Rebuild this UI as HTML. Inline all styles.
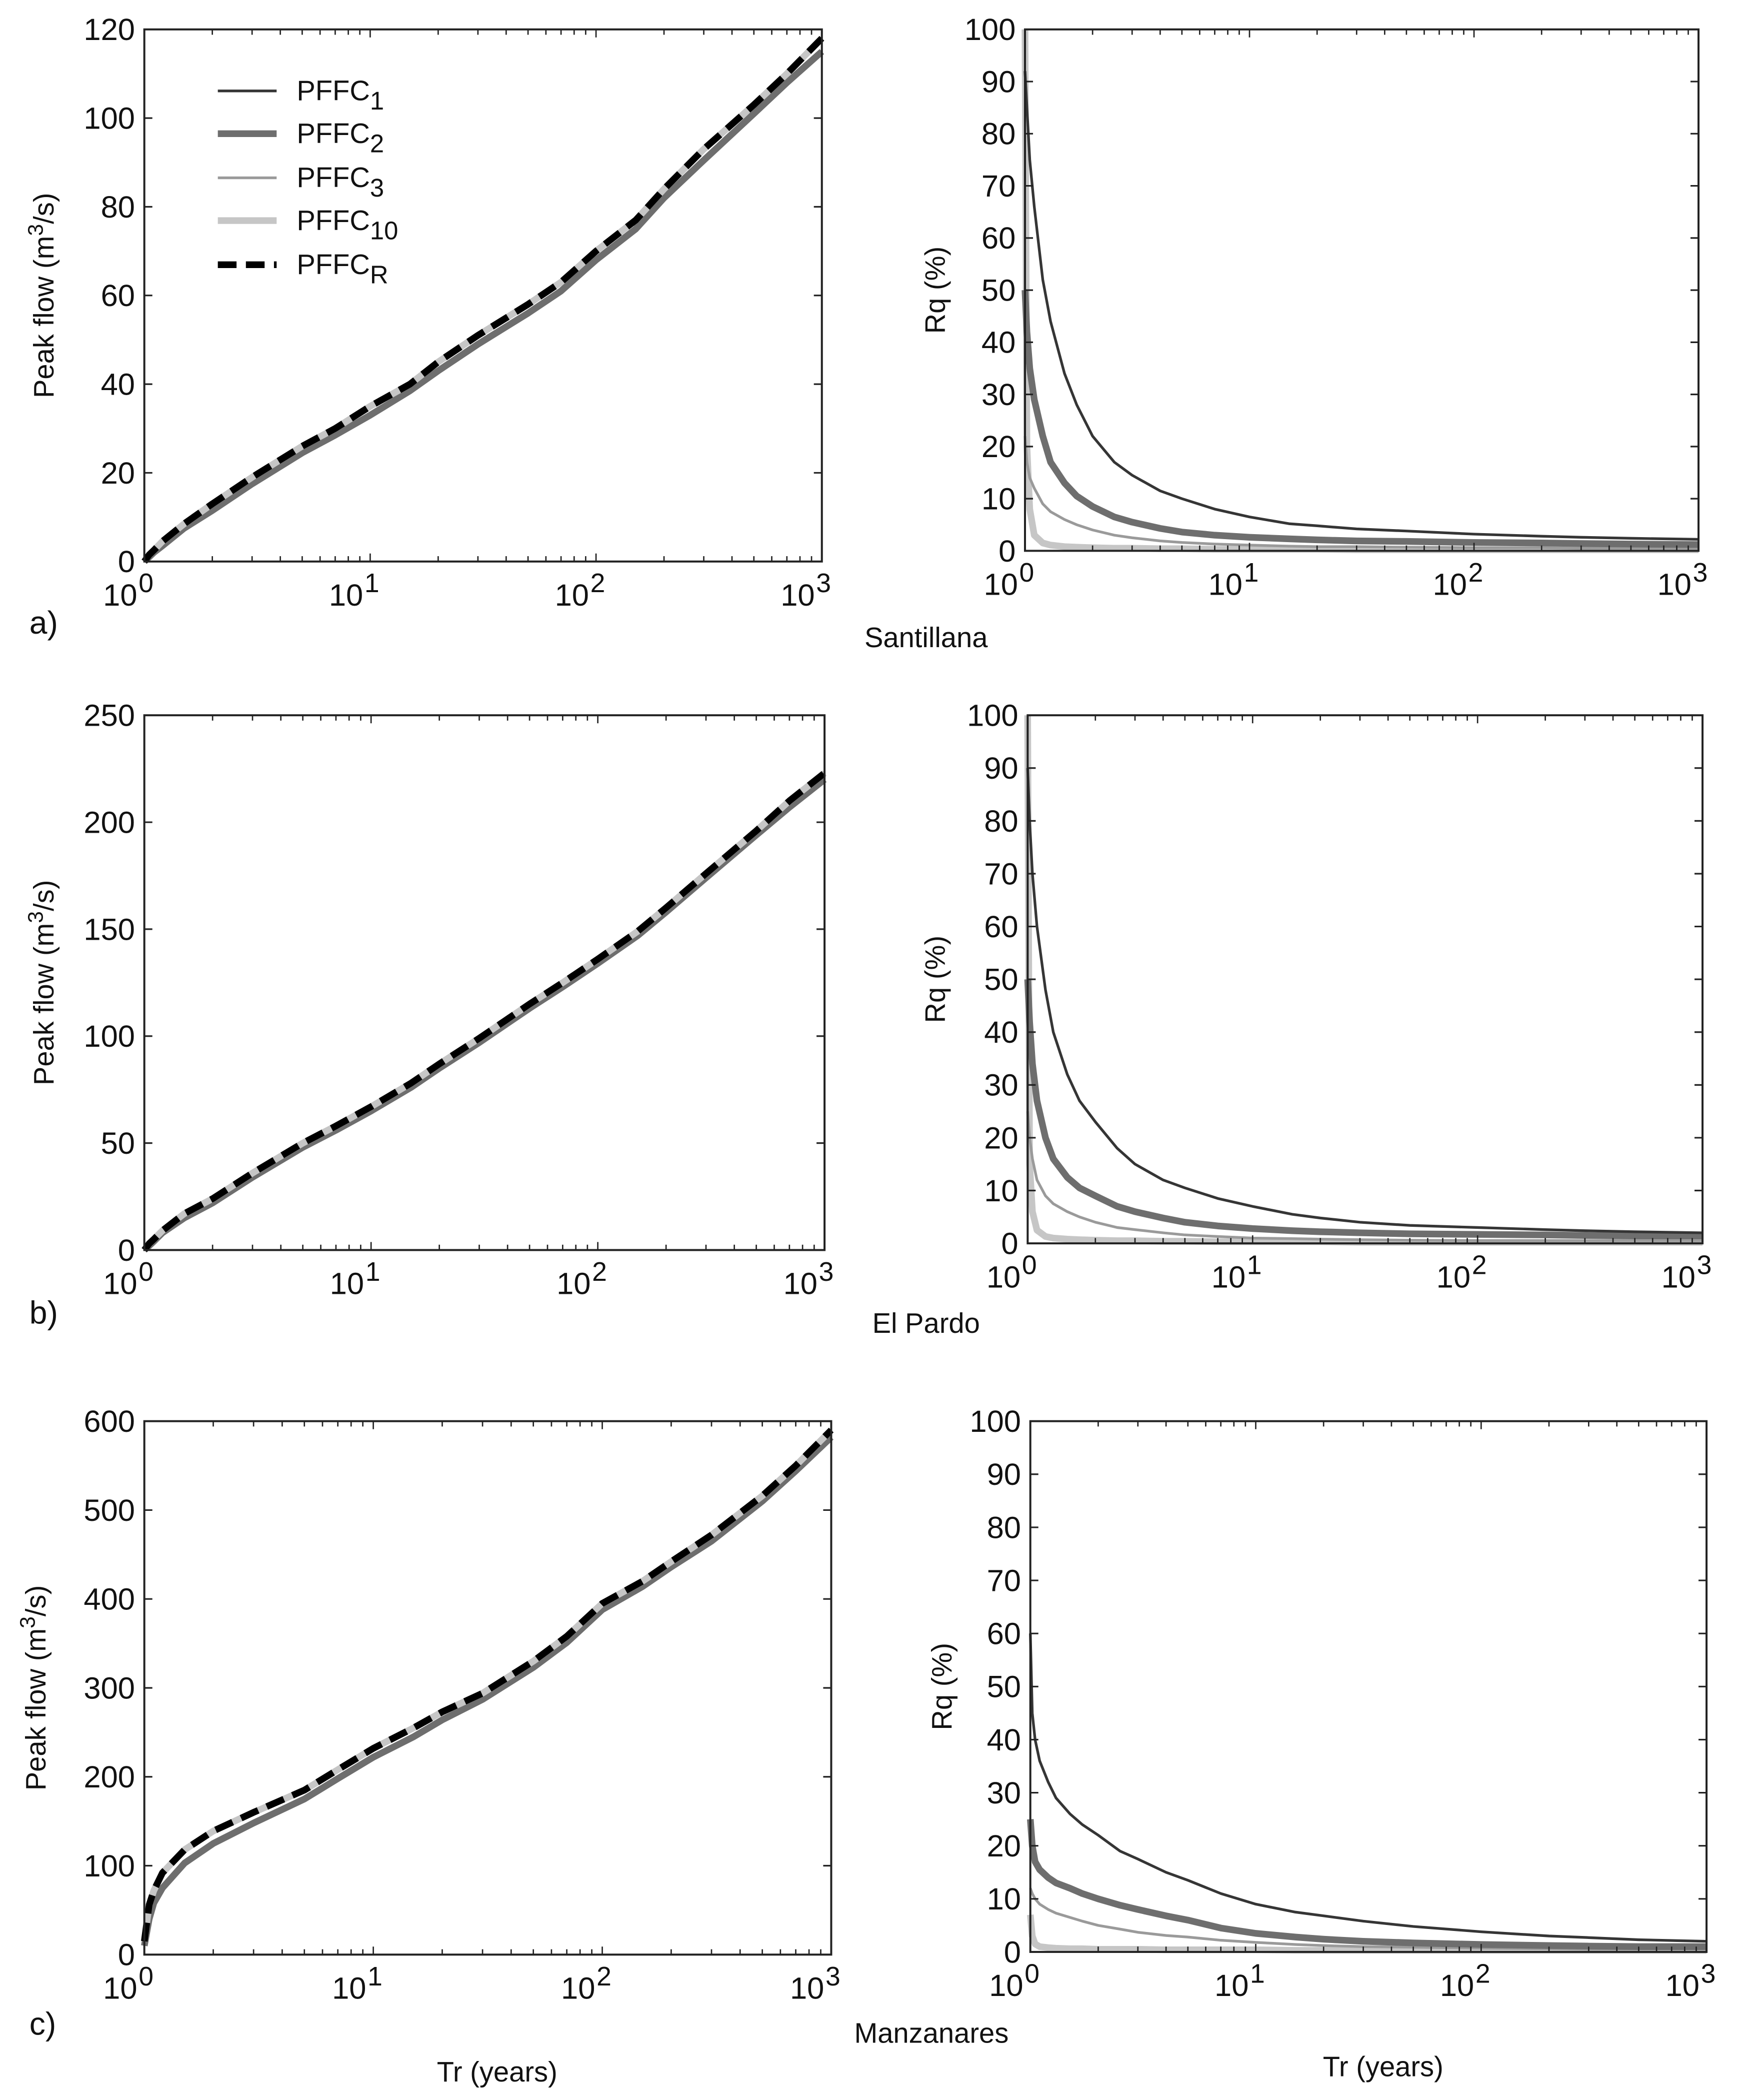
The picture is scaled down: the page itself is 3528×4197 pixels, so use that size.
<!DOCTYPE html>
<html><head><meta charset="utf-8">
<style>
html,body{margin:0;padding:0;background:#fff;}
svg{display:block;font-family:"Liberation Sans",sans-serif;}
</style></head>
<body>
<svg id="fig" width="3528" height="4197" viewBox="0 0 1320 1570" preserveAspectRatio="none" xmlns="http://www.w3.org/2000/svg">
<rect x="0" y="0" width="1320" height="1570" fill="#fff"/>
</svg>
<script>
// ---- data ----
const trPeak = [1, 1.05, 1.1, 1.2, 1.5, 2, 3, 5, 7, 10, 15, 20, 30, 50, 70, 100, 150, 200, 300, 500, 700, 1000];
const santR  = [0, 1.5, 2.5, 4.5, 8.5, 13, 19, 26, 30, 35, 40, 45, 51, 58, 63, 70, 77, 84, 93, 103, 110, 118];
const sant1  = [0, 1, 2, 3.5, 7.5, 11.5, 17.5, 24.5, 28.5, 33, 38.5, 43, 49, 56, 61, 68, 75, 82, 90.5, 101, 108, 115];
const pardR  = [0, 3, 5, 9, 17, 24, 36, 50, 58, 67, 78, 87, 99, 115, 125, 136, 149, 160, 176, 196, 210, 223];
const pard1  = [0, 2, 4, 8, 15, 22, 34, 48, 56, 65, 76, 85, 97, 113, 123, 134, 147, 158, 174, 194, 207, 220];
const manzR  = [15, 56, 72, 92, 118, 139, 160, 185, 208, 232, 255, 273, 294, 330, 358, 395, 420, 442, 472, 516, 550, 590];
const manz1  = [10, 40, 58, 75, 103, 125, 148, 175, 198, 222, 245, 264, 287, 323, 351, 388, 414, 436, 465, 510, 544, 582];

const trRq = [1, 1.02, 1.05, 1.1, 1.2, 1.3, 1.5, 1.7, 2, 2.5, 3, 4, 5, 7, 10, 15, 20, 30, 50, 100, 200, 300, 500, 1000];
const santQ1  = [92, 85, 75, 66, 52, 44, 34, 28, 22, 17, 14.5, 11.5, 10, 8, 6.5, 5.2, 4.8, 4.2, 3.8, 3.2, 2.8, 2.6, 2.4, 2.2];
const santQ2  = [50, 42, 35, 29, 22, 17, 13, 10.5, 8.5, 6.5, 5.5, 4.3, 3.6, 3, 2.6, 2.3, 2.1, 1.9, 1.8, 1.6, 1.5, 1.4, 1.3, 1.2];
const santQ3  = [22, 17, 14, 12, 9, 7.5, 6, 5, 4, 3, 2.5, 1.9, 1.6, 1.3, 1.1, 0.9, 0.8, 0.8, 0.7, 0.6, 0.6, 0.5, 0.5, 0.5];
const santQ10 = [100, 20, 8, 3, 1.5, 1.1, 0.8, 0.7, 0.6, 0.5, 0.5, 0.4, 0.4, 0.3, 0.3, 0.3, 0.3, 0.2, 0.2, 0.2, 0.2, 0.2, 0.2, 0.2];
const pardQ1  = [90, 80, 70, 60, 48, 40, 32, 27, 23, 18, 15, 12, 10.5, 8.5, 7, 5.5, 4.8, 4, 3.4, 3, 2.6, 2.4, 2.2, 2];
const pardQ2  = [50, 42, 34, 27, 20, 16, 12.5, 10.5, 9, 7, 6, 4.8, 4, 3.3, 2.8, 2.4, 2.2, 2, 1.8, 1.7, 1.6, 1.5, 1.4, 1.4];
const pardQ3  = [25, 20, 16, 12, 9, 7.5, 6, 5, 4, 3, 2.6, 2, 1.6, 1.3, 1, 0.9, 0.8, 0.7, 0.6, 0.5, 0.5, 0.5, 0.5, 0.5];
const pardQ10 = [100, 15, 6, 2.5, 1.3, 1, 0.8, 0.7, 0.6, 0.5, 0.5, 0.4, 0.4, 0.3, 0.3, 0.3, 0.3, 0.2, 0.2, 0.2, 0.2, 0.2, 0.2, 0.2];
const manzQ1  = [60, 45, 40, 36, 32, 29, 26, 24, 22, 19, 17.5, 15, 13.5, 11, 9, 7.5, 6.8, 5.8, 4.8, 3.8, 3, 2.7, 2.3, 2];
const manzQ2  = [25, 20, 17, 15.5, 14, 13, 12, 11, 10, 8.8, 8, 6.8, 6, 4.5, 3.5, 2.8, 2.4, 2, 1.7, 1.4, 1.2, 1.1, 1, 1];
const manzQ3  = [12, 11, 10, 9, 8, 7.3, 6.5, 5.8, 5, 4.3, 3.7, 3.1, 2.8, 2.2, 1.8, 1.4, 1.2, 1, 0.9, 0.7, 0.6, 0.5, 0.5, 0.5];
const manzQ10 = [7, 3, 1.5, 1, 0.8, 0.7, 0.6, 0.6, 0.5, 0.5, 0.5, 0.4, 0.4, 0.4, 0.4, 0.3, 0.3, 0.3, 0.3, 0.3, 0.3, 0.3, 0.3, 0.3];

const peakTicks = { a: [0,20,40,60,80,100,120], b: [0,50,100,150,200,250], c: [0,100,200,300,400,500,600] };
const rqTicks = [0,10,20,30,40,50,60,70,80,90,100];
const xDecades = [0,1,2,3];

// ---- helpers ----
const NS = "http://www.w3.org/2000/svg";
const svg = document.getElementById('fig');
function mk(tag, attrs, parent){
  const e = document.createElementNS(NS, tag);
  for (const k in attrs) e.setAttribute(k, attrs[k]);
  (parent||svg).appendChild(e);
  return e;
}
const styles = {
  p1:  {stroke:'#353535', w:2},
  p2:  {stroke:'#6e6e6e', w:5},
  p3:  {stroke:'#9a9a9a', w:2},
  p10: {stroke:'#c6c6c6', w:5},
  pR:  {stroke:'#000', w:5, dash:'14,7'}
};

function panel(cfg){
  const g = mk('g', {});
  
  
  const xs = v => cfg.x0 + Math.log10(v)/3*(cfg.x1-cfg.x0);
  const ys = v => cfg.y1 - (v-cfg.ymin)/(cfg.ymax-cfg.ymin)*(cfg.y1-cfg.y0);
  const clip = 'clip-'+cfg.name;
  const cp = mk('clipPath', {id:clip}, g);
  mk('rect', {x:cfg.x0-3, y:cfg.y0-3, width:cfg.x1-cfg.x0+6, height:cfg.y1-cfg.y0+6}, cp);
  cfg.series.forEach(s=>{
    const st = styles[s.style];
    let d = '';
    s.vals.forEach((v,i)=>{ d += (i?'L':'M') + xs(s.x[i]).toFixed(2) + ',' + ys(v).toFixed(2); });
    const p = mk('path', {d:d, fill:'none', stroke:st.stroke, 'stroke-width':st.w, 'stroke-linejoin':'round', 'clip-path':'url(#'+clip+')'}, g);
    if (st.dash) p.setAttribute('stroke-dasharray', st.dash);
    
    
  });
  const box = mk('rect', {x:cfg.x0, y:cfg.y0, width:cfg.x1-cfg.x0, height:cfg.y1-cfg.y0, fill:'none', stroke:'#222', 'stroke-width':1.5}, g);
  
  
  cfg.yticks.forEach(t=>{
    const y = ys(t);
    mk('line', {x1:cfg.x0, x2:cfg.x0+6, y1:y, y2:y, stroke:'#222', 'stroke-width':1.2}, g);
    mk('line', {x1:cfg.x1, x2:cfg.x1-6, y1:y, y2:y, stroke:'#222', 'stroke-width':1.2}, g);
    const tx = mk('text', {x:cfg.x0-7, y:y+8, 'text-anchor':'end', 'font-size':23, fill:'#111'}, g);
    tx.textContent = t;
    
    
  });
  xDecades.forEach(dcd=>{
    for (let m=1; m<=9; m++){
      const v = Math.pow(10,dcd)*m;
      if (v>1000) break;
      const x = xs(v);
      const L = m===1?6:4;
      mk('line', {x1:x, x2:x, y1:cfg.y1, y2:cfg.y1-L, stroke:'#222', 'stroke-width':1}, g);
      mk('line', {x1:x, x2:x, y1:cfg.y0, y2:cfg.y0+L, stroke:'#222', 'stroke-width':1}, g);
    }
    const x = xs(Math.pow(10,dcd));
    const tx = mk('text', {x:x-12, y:cfg.y1+33, 'text-anchor':'middle', 'font-size':23, fill:'#111'}, g);
    tx.textContent = '10';
    const sup = mk('tspan', {dy:-10, 'font-size':20, dx:1}, tx);
    sup.textContent = dcd;
    
    
  });
  const cy = (cfg.y0+cfg.y1)/2;
  const yt = mk('text', {x:cfg.ytx, y:cy, 'text-anchor':'middle', 'font-size':21, fill:'#111', transform:'rotate(-90 '+cfg.ytx+' '+cy+')'}, g);
  
  
  if (cfg.kind==='peak'){
    yt.appendChild(document.createTextNode('Peak flow (m'));
    const s = mk('tspan', {dy:-8, 'font-size':16}, yt); s.textContent='3';
    const r = mk('tspan', {dy:8}, yt); r.textContent='/s)';
  } else {
    yt.textContent = 'Rq (%)';
  }
  return g;
}

function peakSeries(ref, low){
  return [
    {name:'pffc1-line', style:'p1', x:trPeak, vals:low},
    {name:'pffc2-line', style:'p2', x:trPeak, vals:low},
    {name:'pffc3-line', style:'p3', x:trPeak, vals:ref},
    {name:'pffc10-line', style:'p10', x:trPeak, vals:ref},
    {name:'pffcr-line', style:'pR', x:trPeak, vals:ref}
  ];
}
function rqSeries(q1,q2,q3,q10){
  return [
    {name:'pffc10-rq-line', style:'p10', x:trRq, vals:q10},
    {name:'pffc3-rq-line', style:'p3', x:trRq, vals:q3},
    {name:'pffc2-rq-line', style:'p2', x:trRq, vals:q2},
    {name:'pffc1-rq-line', style:'p1', x:trRq, vals:q1}
  ];
}

panel({name:'santillana-peak-chart', kind:'peak', x0:108, x1:615, y0:22, y1:420, ymin:0, ymax:120, yticks:peakTicks.a, ytx:40, series:peakSeries(santR, sant1)});
panel({name:'santillana-rq-chart', kind:'rq', x0:767, x1:1271, y0:22, y1:412, ymin:0, ymax:100, yticks:rqTicks, ytx:707, series:rqSeries(santQ1,santQ2,santQ3,santQ10)});
panel({name:'elpardo-peak-chart', kind:'peak', x0:108, x1:617, y0:535, y1:935, ymin:0, ymax:250, yticks:peakTicks.b, ytx:40, series:peakSeries(pardR, pard1)});
panel({name:'elpardo-rq-chart', kind:'rq', x0:769, x1:1274, y0:535, y1:930, ymin:0, ymax:100, yticks:rqTicks, ytx:707, series:rqSeries(pardQ1,pardQ2,pardQ3,pardQ10)});
panel({name:'manzanares-peak-chart', kind:'peak', x0:108, x1:622, y0:1063, y1:1462, ymin:0, ymax:600, yticks:peakTicks.c, ytx:34, series:peakSeries(manzR, manz1)});
panel({name:'manzanares-rq-chart', kind:'rq', x0:771, x1:1277, y0:1063, y1:1460, ymin:0, ymax:100, yticks:rqTicks, ytx:712, series:rqSeries(manzQ1,manzQ2,manzQ3,manzQ10)});

const leg = mk('g', {});


const legItems = [['p1','1',75],['p2','2',107],['p3','3',140],['p10','10',172],['pR','R',205]];
legItems.forEach(it=>{
  const st = styles[it[0]];
  const ln = mk('line', {x1:163, x2:207, y1:it[2]-7, y2:it[2]-7, stroke:st.stroke, 'stroke-width':st.w}, leg);
  if (st.dash) ln.setAttribute('stroke-dasharray', '14,7');
  
  
  const t = mk('text', {x:222, y:it[2], 'font-size':21, fill:'#111'}, leg);
  t.appendChild(document.createTextNode('PFFC'));
  const s = mk('tspan', {dy:7, 'font-size':19}, t); s.textContent = it[1];
  
  
});

const labels = [
  ['a)', 22, 474, 'start', 'panel-label-a'],
  ['Santillana', 693, 484, 'middle', 'station-title-santillana'],
  ['b)', 22, 990, 'start', 'panel-label-b'],
  ['El Pardo', 693, 997, 'middle', 'station-title-elpardo'],
  ['c)', 22, 1522, 'start', 'panel-label-c'],
  ['Manzanares', 697, 1528, 'middle', 'station-title-manzanares'],
  ['Tr (years)', 372, 1557, 'middle', 'x-axis-title-left'],
  ['Tr (years)', 1035, 1553, 'middle', 'x-axis-title-right']
];
labels.forEach(l=>{
  const t = mk('text', {x:l[1], y:l[2], 'text-anchor':l[3], 'font-size':l[0].length===2?24:21, fill:'#111'});
  t.textContent = l[0];
  
  
});
</script>
</body></html>
